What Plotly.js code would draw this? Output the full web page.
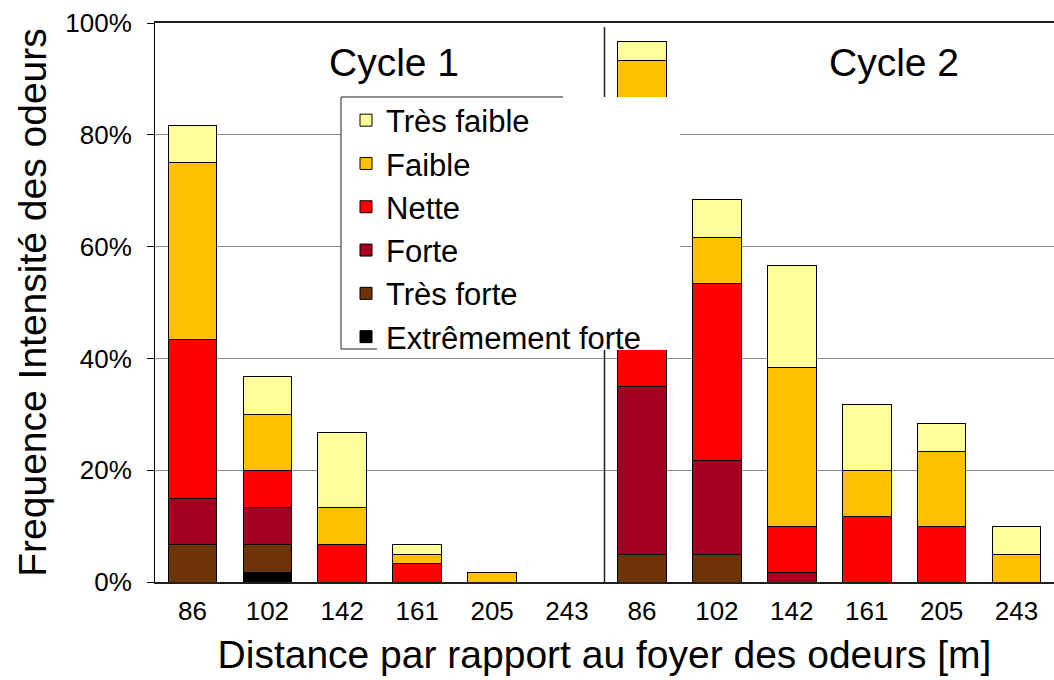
<!DOCTYPE html>
<html>
<head>
<meta charset="utf-8">
<script src="https://cdn.plot.ly/plotly-3.0.1.min.js"></script>
<style>html,body{margin:0;padding:0;background:#fff;}#chart{width:1054px;height:680px;}</style>
</head>
<body>
<div id="chart"></div>
<script>
// Data (percent of observations)
const distances = ["86", "102", "142", "161", "205", "243"];
const cycles = ["Cycle 1", "Cycle 2"];
const tickLabels = distances.concat(distances);
const xIndex = tickLabels.map((_, i) => i);

const tresFaible = [6.67, 6.67, 13.33, 1.67, null, null, 3.33, 6.67, 18.33, 11.67, 5, 5];
const faible     = [31.67, 10, 6.67, 1.67, 1.67, null, 38.33, 8.33, 28.33, 8.33, 13.33, 5];
const nette      = [28.33, 6.67, 6.67, 3.33, null, null, 20, 31.67, 8.33, 11.67, 10, null];
const forte      = [8.33, 6.67, null, null, null, null, 30, 16.67, 1.67, null, null, null];
const tresForte  = [6.67, 5, null, null, null, null, 5, 5, null, null, null, null];
const extreme    = [null, 1.67, null, null, null, null, null, null, null, null, null, null];

const seriesNames = ["Extrêmement forte", "Très forte", "Forte", "Nette", "Faible", "Très faible"];
const seriesValues = [extreme, tresForte, forte, nette, faible, tresFaible];
const seriesColors = ["#000000", "#6E3306", "#A50021", "#FF0000", "#FFC000", "#FFFF99"];

const FONT = "Liberation Sans, Arial, sans-serif";

const traces = seriesNames.map((name, k) => ({
  type: "bar",
  name: name,
  x: xIndex,
  y: seriesValues[k],
  legendrank: seriesNames.length - k,
  marker: { color: seriesColors[k], line: { color: "#000000", width: 1 } },
  hoverinfo: "x+y+name"
}));

// pixel helpers for paper coords (plot area: x 155..1054, y 23..582)
const L = 155, R = 1054, T = 23, B = 582;
const px = v => (v - L) / (R - L);
const py = v => (B - v) / (B - T);

const layout = {
  width: 1054,
  height: 680,
  margin: { l: L, r: 1054 - R, t: T, b: 680 - B, pad: 0 },
  paper_bgcolor: "#ffffff",
  plot_bgcolor: "#ffffff",
  font: { family: FONT, color: "#000000" },
  barmode: "stack",
  bargap: 0.35,
  showlegend: true,
  legend: {
    x: px(346), y: py(93.5), xanchor: "left", yanchor: "top",
    bgcolor: "rgba(0,0,0,0)", borderwidth: 0,
    font: { family: FONT, size: 31, color: "#000000" },
    traceorder: "normal",
    itemclick: false
  },
  xaxis: {
    range: [-0.5, 11.5],
    tickmode: "array",
    tickvals: xIndex,
    ticktext: tickLabels,
    ticks: "",
    showgrid: false,
    zeroline: false,
    showline: true,
    linecolor: "#202020",
    linewidth: 1.5,
    mirror: true,
    tickfont: { family: FONT, size: 26, color: "#000000" },
    ticklabelstandoff: 5,
    title: { text: "Distance par rapport au foyer des odeurs [m]", font: { family: FONT, size: 39, color: "#000000" }, standoff: 16 },
    fixedrange: true
  },
  yaxis: {
    range: [0, 100],
    dtick: 20,
    ticksuffix: "%",
    ticks: "outside",
    ticklen: 7,
    tickcolor: "#000000",
    showline: true,
    linecolor: "#000000",
    linewidth: 1,
    showgrid: true,
    gridcolor: "#8c8c8c",
    gridwidth: 1,
    zeroline: false,
    tickfont: { family: FONT, size: 26, color: "#000000" },
    ticklabelstandoff: 10,
    title: { text: "Frequence Intensité des odeurs", font: { family: FONT, size: 39, color: "#000000" }, standoff: 6 },
    fixedrange: true
  },
  shapes: [
    // cycle divider
    { type: "line", xref: "x", yref: "paper", x0: 5.5, x1: 5.5, y0: 0, y1: py(27), line: { color: "#202020", width: 1.5 }, layer: "above" },
    // opaque legend box
    { type: "rect", xref: "paper", yref: "paper", x0: px(341), x1: px(680), y0: py(350), y1: py(97), fillcolor: "#ffffff", line: { width: 0 }, layer: "above" },
    { type: "line", xref: "paper", yref: "paper", x0: px(341), x1: px(341), y0: py(349), y1: py(97), line: { color: "#202020", width: 1 }, layer: "above" },
    { type: "line", xref: "paper", yref: "paper", x0: px(341), x1: px(563), y0: py(97), y1: py(97), line: { color: "#202020", width: 1 }, layer: "above" },
    { type: "line", xref: "paper", yref: "paper", x0: px(341), x1: px(377), y0: py(349), y1: py(349), line: { color: "#202020", width: 1 }, layer: "above" }
  ],
  annotations: [
    { text: cycles[0], xref: "paper", yref: "paper", x: px(394), y: py(62), xanchor: "center", yanchor: "middle", showarrow: false, font: { family: FONT, size: 39, color: "#000000" } },
    { text: cycles[1], xref: "paper", yref: "paper", x: px(894), y: py(62), xanchor: "center", yanchor: "middle", showarrow: false, font: { family: FONT, size: 39, color: "#000000" } }
  ]
};

Plotly.newPlot("chart", traces, layout, { displayModeBar: false, staticPlot: false, responsive: false });
</script>
</body>
</html>
